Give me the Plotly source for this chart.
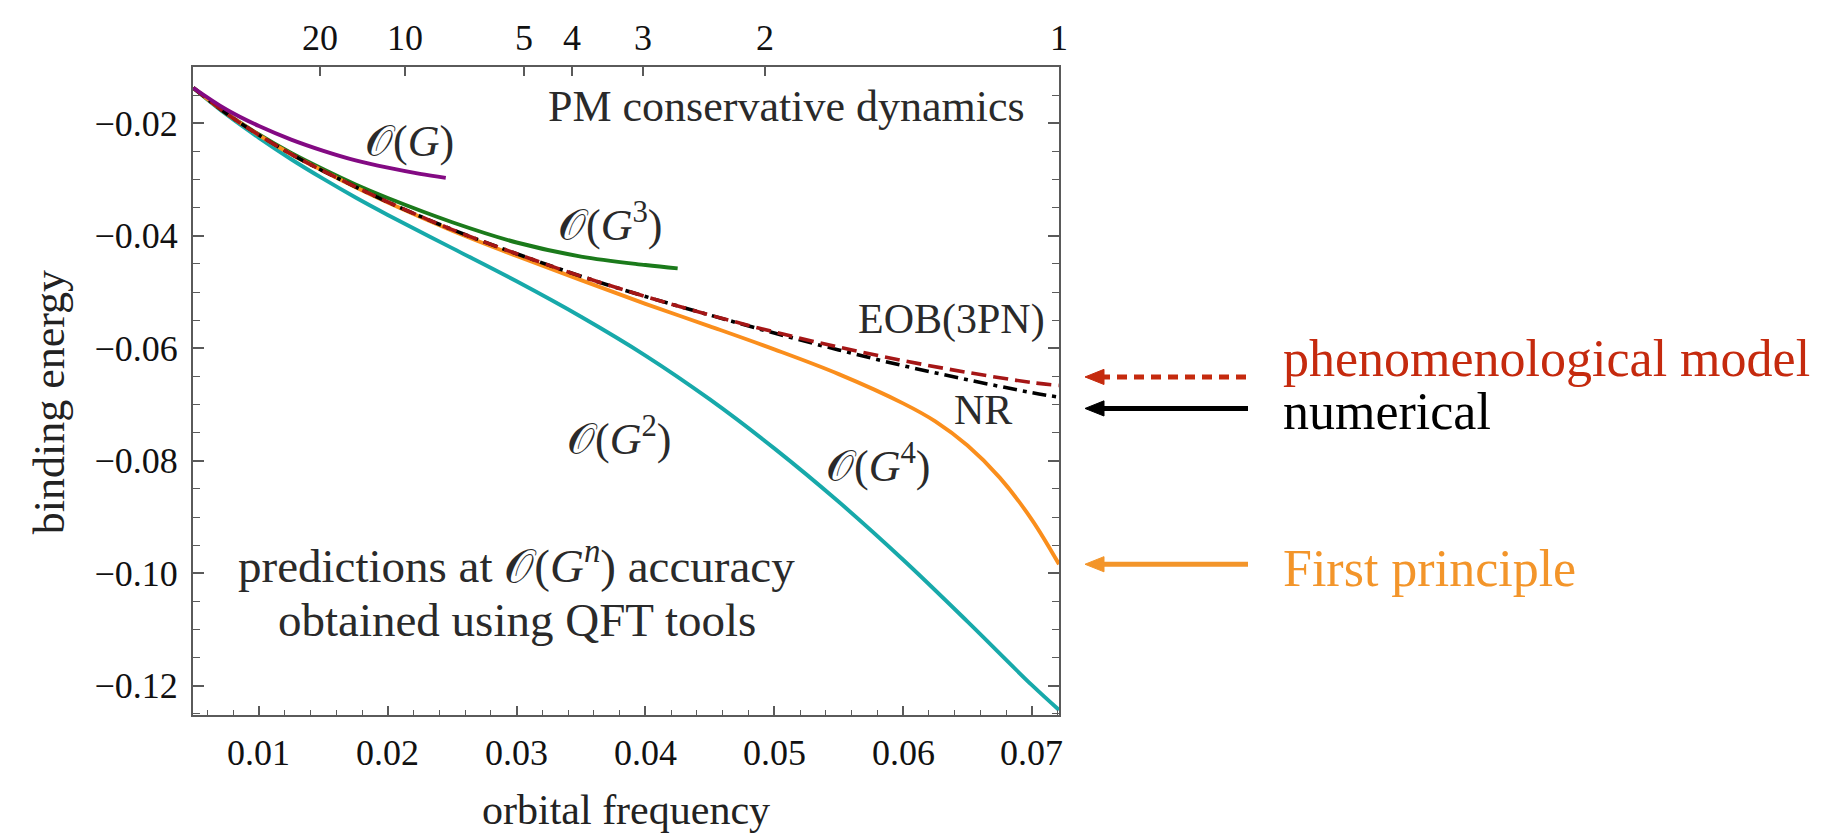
import plotly.graph_objects as go

# ---------------- data ----------------
grid_x = [0.0049, 0.0075, 0.01, 0.0125, 0.015, 0.0175, 0.02, 0.025, 0.03, 0.035,
          0.04, 0.045, 0.05, 0.055, 0.06, 0.065, 0.07, 0.0721]

eob_y = [-0.0137, -0.0183, -0.0221, -0.0255, -0.0285, -0.0313, -0.0340, -0.0389, -0.0432,
         -0.0472, -0.0508, -0.0541, -0.0571, -0.0598, -0.0622, -0.0643, -0.0661, -0.0666]
nr_y = [-0.0137, -0.0183, -0.0221, -0.0255, -0.0285, -0.0313, -0.0340, -0.0389, -0.0432,
        -0.0472, -0.0508, -0.0541, -0.0573, -0.0603, -0.0631, -0.0656, -0.0679, -0.0687]
g2_y = [-0.0137, -0.0185, -0.0226, -0.0264, -0.0299, -0.0332, -0.0363, -0.0422, -0.0481,
        -0.0544, -0.0613, -0.0691, -0.0778, -0.0873, -0.0976, -0.1086, -0.1199, -0.1243]

g4_x = [0.0049, 0.0075, 0.01, 0.0125, 0.015, 0.0175, 0.02, 0.025, 0.03, 0.035, 0.04,
        0.045, 0.05, 0.055, 0.06, 0.0625, 0.065, 0.0675, 0.07, 0.0721]
g4_y = [-0.0137, -0.0183, -0.0221, -0.0255, -0.0285, -0.0314, -0.0341, -0.0391, -0.0436,
        -0.0479, -0.0521, -0.0561, -0.0602, -0.0646, -0.0698, -0.0730, -0.0773, -0.0830,
        -0.0905, -0.0984]

g3_x = [0.0049, 0.0075, 0.01, 0.0125, 0.015, 0.0175, 0.02, 0.025, 0.03, 0.035, 0.04, 0.0425]
g3_y = [-0.0137, -0.0183, -0.0220, -0.0253, -0.0282, -0.0309, -0.0333, -0.0376, -0.0412,
        -0.0437, -0.0452, -0.0458]

g1_x = [0.0049, 0.0075, 0.01, 0.0125, 0.015, 0.0175, 0.02, 0.0225, 0.0245]
g1_y = [-0.0137, -0.0176, -0.0205, -0.0229, -0.0249, -0.0266, -0.0279, -0.0290, -0.0297]

x_ticks = [0.01, 0.02, 0.03, 0.04, 0.05, 0.06, 0.07]
x_ticktext = ["0.01", "0.02", "0.03", "0.04", "0.05", "0.06", "0.07"]
y_ticks = [-0.02, -0.04, -0.06, -0.08, -0.10, -0.12]
y_ticktext = ["\u22120.02", "\u22120.04", "\u22120.06", "\u22120.08", "\u22120.10", "\u22120.12"]
top_tick_freqs = [0.0147, 0.0213, 0.0306, 0.0343, 0.0398, 0.0493, 0.0721]
top_tick_labels = ["20", "10", "5", "4", "3", "2", "1"]

X_RANGE = [0.00488, 0.0721]
Y_RANGE = [-0.1252, -0.0100]

FONT = "Liberation Serif"
AX = "#5a5a5a"

fig = go.Figure()

def line(x, y, color, dash="solid", width=3.9, name=""):
    fig.add_trace(go.Scatter(x=x, y=y, mode="lines", name=name,
                             line=dict(color=color, width=width, dash=dash, shape="spline", smoothing=1.0),
                             hoverinfo="skip", showlegend=False))

line(grid_x, g2_y, "#17A9AA", name="O(G^2)")
line(g3_x, g3_y, "#1B7A1B", name="O(G^3)")
line(g4_x, g4_y, "#FA8E1C", name="O(G^4)")
line(grid_x, nr_y, "#000000", dash="14px,6px,4px,6px", width=3.6, name="NR")
line(grid_x, eob_y, "#A51616", dash="15px,7px", width=3.6, name="EOB(3PN)")
line(g1_x, g1_y, "#830A83", name="O(G)")

# invisible trace to carry the top axis
fig.add_trace(go.Scatter(x=X_RANGE, y=[None, None], xaxis="x2", mode="lines",
                         hoverinfo="skip", showlegend=False))

tickfont = dict(family=FONT, size=36, color="#111")

fig.update_layout(
    width=1840, height=833, autosize=False,
    margin=dict(l=185, r=789, t=59, b=126, pad=0),
    paper_bgcolor="white", plot_bgcolor="white",
    xaxis=dict(range=X_RANGE, tickvals=x_ticks, ticks="inside", showticklabels=False,
               ticklen=9, tickwidth=1.5, tickcolor=AX, showline=True, linecolor=AX,
               linewidth=2, mirror=True, showgrid=False, zeroline=False,
               minor=dict(dtick=0.002, tick0=0, ticks="inside", ticklen=5, tickwidth=1.2,
                          tickcolor=AX, showgrid=False)),
    xaxis2=dict(range=X_RANGE, overlaying="x", side="top", anchor="y",
                tickvals=top_tick_freqs, ticks="inside", showticklabels=False,
                ticklen=9, tickwidth=1.5, tickcolor=AX, showline=False, showgrid=False,
                zeroline=False),
    yaxis=dict(range=Y_RANGE, tickvals=y_ticks, ticktext=y_ticktext, ticks="inside",
               ticklen=11, tickwidth=1.5, tickcolor=AX, showline=True, linecolor=AX,
               linewidth=2, mirror="ticks", showgrid=False, zeroline=False,
               tickfont=tickfont, ticklabelstandoff=6,
               minor=dict(dtick=0.005, tick0=0, ticks="inside", ticklen=7, tickwidth=1.2,
                          tickcolor=AX, showgrid=False)),
)

txt = "#2a2a2a"
def note(text, x, y, size=42, xanchor="center", yanchor="middle", color=txt, xref="x", yref="y", angle=0):
    fig.add_annotation(text=text, x=x, y=y, xref=xref, yref=yref, showarrow=False,
                       xanchor=xanchor, yanchor=yanchor, textangle=angle,
                       font=dict(family=FONT, size=size, color=color))

# tick labels of the bottom and top frequency axes
for v, t in zip(x_ticks, x_ticktext):
    note(t, v, -0.0586, size=36, color="#111", yref="paper")
for v, t in zip(top_tick_freqs, top_tick_labels):
    note(t, v, 1.0455, size=36, color="#111", yref="paper")

O = "\U0001D4AA"
note("PM conservative dynamics", 0.0696, -0.0170, size=44, xanchor="right")
note(O + "(<i>G</i>)", 0.0217, -0.0233, size=44)
note(O + "(<i>G</i><sup>3</sup>)", 0.0373, -0.0376, size=44)
note("EOB(3PN)", 0.0712, -0.0548, size=42, xanchor="right")
note("NR", 0.0662, -0.0710, size=42)
note(O + "(<i>G</i><sup>4</sup>)", 0.0581, -0.0804, size=44)
note(O + "(<i>G</i><sup>2</sup>)", 0.0380, -0.0757, size=44)
note("predictions at " + O + "(<i>G<sup>n</sup></i>) accuracy", 0.0300, -0.0980, size=47)
note("obtained using QFT tools", 0.0300, -0.1083, size=47)

# axis titles
note("binding energy", -0.166, 0.483, size=44, xref="paper", yref="paper", color="#222", angle=-90)
note("orbital frequency", 0.5, -0.1855, size=42, yanchor="bottom", xref="paper", yref="paper",
     color="#222")

# right-side callouts
def px2paper(X):
    return (X - 185) / 866.0

RED = "#C52A0E"
ORG = "#F3952A"
for yv, col, dashed in [(-0.0651, RED, True), (-0.0707, "#000000", False), (-0.0984, ORG, False)]:
    fig.add_shape(type="line", xref="paper", yref="y", x0=px2paper(1092), x1=px2paper(1240),
                  y0=yv, y1=yv, line=dict(color=col, width=5, dash=("10px,7px" if dashed else "solid")))
    hx = px2paper(1077)
    hw = px2paper(1096) - hx
    dy = 0.00135
    fig.add_shape(type="path", xref="paper", yref="y",
                  path=f"M {hx} {yv} L {hx + hw} {yv + dy} L {hx + hw} {yv - dy} Z",
                  fillcolor=col, line=dict(color=col, width=1))

note("phenomenological model", px2paper(1273), -0.0618, size=52, xanchor="left", color=RED,
     xref="paper")
note("numerical", px2paper(1273), -0.0713, size=52, xanchor="left", color="#000", xref="paper")
note("First principle", px2paper(1273), -0.0991, size=52, xanchor="left", color=ORG, xref="paper")

fig.write_html("out.html")
